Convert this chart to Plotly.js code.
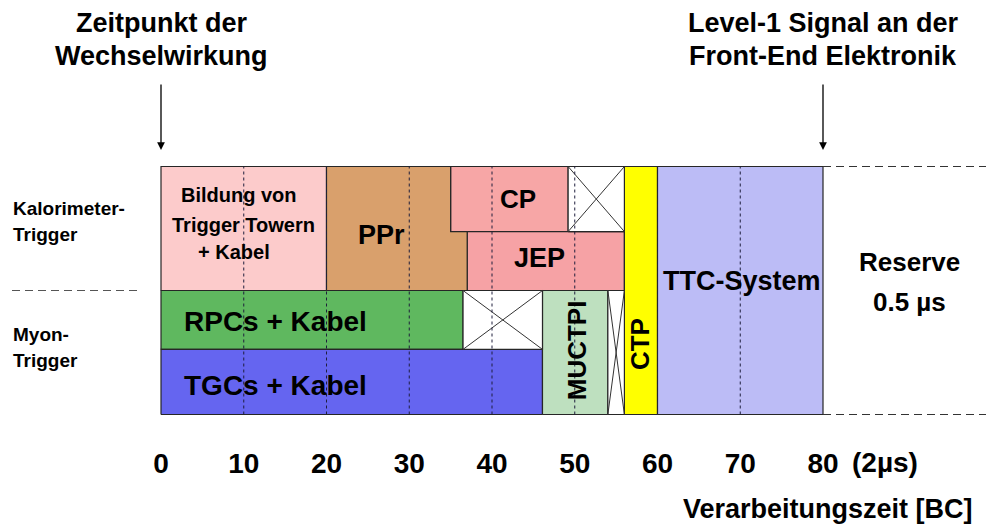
<!DOCTYPE html>
<html><head><meta charset="utf-8">
<script src="https://cdn.plot.ly/plotly-3.0.1.min.js"></script>
<style>html,body{margin:0;padding:0;background:#fff;} #chart{width:986px;height:532px;}</style>
</head><body><div id="chart"></div>
<script>
// ---------------- data: processing time in bunch crossings (BC) ----------------
const blockNames = ['Bildung von Trigger Towern + Kabel', 'CP', 'JEP', 'RPCs + Kabel', 'TGCs + Kabel', 'MUCTPI', 'CTP', 'TTC-System'];
const blockStart = [0, 35, 37, 0, 0, 46.1, 56, 60];
const blockEnd   = [20, 49.2, 56, 36.5, 46.1, 54, 60, 80];
const blockLow   = [2, 2.95, 2, 1.05, 0, 0, 0, 0];
const blockHigh  = [4, 4, 2.95, 2, 1.05, 2, 4, 4];

// PPr is L-shaped: ends at 35 BC beside CP and at 37 BC beside JEP
const pprStart = [20];
const pprEnd   = [35, 37];      // upper part, lower part
const pprRows  = [4, 2.95, 2];  // top, split, bottom

// unused (crossed) slots
const idleStart = [49.2, 36.5, 54];
const idleEnd   = [56, 46.1, 56];
const idleLow   = [2.95, 1.05, 0];
const idleHigh  = [4, 2, 2];

const reserveRange = [80, 100];
const rowDivider   = [2];
const tickVals = [0, 10, 20, 30, 40, 50, 60, 70, 80];
const tickText = ['0', '10', '20', '30', '40', '50', '60', '70', '80'];
const gridVals = [10, 20, 30, 40, 50, 60, 70];

// ---------------- styles ----------------
const blockColors = ['#FCCBCB', '#F7A6A6', '#F6A2A5', '#5FB85F', '#6565F0', '#BEE0BF', '#FFFF00', '#BCBCF6'];
const pprColor = '#D9A06C';
const FONT = 'Liberation Sans, Arial, Helvetica, sans-serif';
const EDGE = '#262626';

// axis geometry (pixel <-> data helpers for annotation placement)
const PX_X = 8.275, X0PX = 161;   // px per BC, px of BC 0
const PX_Y = 62, Y0PX = 414.5;    // px per row unit, px of y=0
const W = 986, H = 532;
const yOf = py => (Y0PX - py) / PX_Y;
const xOf = px => (px - X0PX) / PX_X;

const traces = [];
function rect(x0, x1, y0, y1, fill) {
  traces.push({type: 'scatter', mode: 'lines', x: [x0, x1, x1, x0, x0], y: [y0, y0, y1, y1, y0],
    fill: 'toself', fillcolor: fill, line: {color: EDGE, width: 1.2}, hoverinfo: 'skip', showlegend: false});
}
// normal blocks
blockNames.forEach((n, i) => rect(blockStart[i], blockEnd[i], blockLow[i], blockHigh[i], blockColors[i]));
// PPr polygon
traces.push({type: 'scatter', mode: 'lines',
  x: [pprStart[0], pprEnd[1], pprEnd[1], pprEnd[0], pprEnd[0], pprStart[0], pprStart[0]],
  y: [pprRows[2], pprRows[2], pprRows[1], pprRows[1], pprRows[0], pprRows[0], pprRows[2]],
  fill: 'toself', fillcolor: pprColor, line: {color: EDGE, width: 1.2}, hoverinfo: 'skip', showlegend: false});
// crossed idle slots
idleStart.forEach((s, i) => {
  rect(s, idleEnd[i], idleLow[i], idleHigh[i], '#FFFFFF');
  traces.push({type: 'scatter', mode: 'lines',
    x: [s, idleEnd[i], null, s, idleEnd[i]], y: [idleLow[i], idleHigh[i], null, idleHigh[i], idleLow[i]],
    line: {color: '#333', width: 1}, hoverinfo: 'skip', showlegend: false});
});
// vertical dashed grid lines
const gx = [], gy = [];
gridVals.forEach(v => { gx.push(v, v, null); gy.push(0, 4, null); });
traces.push({type: 'scatter', mode: 'lines', x: gx, y: gy,
  line: {color: '#1e1e3c', width: 1, dash: '3px,3px'}, hoverinfo: 'skip', showlegend: false});
// reserve dashed border lines
traces.push({type: 'scatter', mode: 'lines',
  x: [reserveRange[0], reserveRange[1], null, reserveRange[0], reserveRange[1]], y: [4, 4, null, 0, 0],
  line: {color: '#333', width: 1, dash: '8px,5px'}, hoverinfo: 'skip', showlegend: false});
// left row separator
traces.push({type: 'scatter', mode: 'lines', x: [xOf(12), xOf(138)], y: [rowDivider[0], rowDivider[0]],
  line: {color: '#555', width: 1, dash: '8px,5px'}, hoverinfo: 'skip', showlegend: false});

function lab(text, x, py, size, extra) {
  return Object.assign({text: text, x: x, y: yOf(py), xref: 'x', yref: 'y', showarrow: false,
    xanchor: 'center', yanchor: 'middle', font: {family: FONT, size: size, color: '#000', weight: 'bold'}}, extra || {});
}
const ann = [
  lab('Zeitpunkt der', 0, 23, 27), lab('Wechselwirkung', 0, 56, 27),
  lab('Level-1 Signal an der', 80, 23, 27), lab('Front-End Elektronik', 80, 56, 27),
  {x: 0, y: yOf(150), xref: 'x', yref: 'y', ax: 0, ay: -67, axref: 'pixel', ayref: 'pixel', text: '',
    showarrow: true, arrowhead: 2, arrowsize: 1.2, arrowwidth: 1.3, arrowcolor: '#000', standoff: 0},
  {x: 80, y: yOf(150), xref: 'x', yref: 'y', ax: 0, ay: -67, axref: 'pixel', ayref: 'pixel', text: '',
    showarrow: true, arrowhead: 2, arrowsize: 1.2, arrowwidth: 1.3, arrowcolor: '#000', standoff: 0},
  lab('Kalorimeter-', xOf(11), 208, 19, {xanchor: 'left'}), lab('Trigger', xOf(11), 234, 19, {xanchor: 'left'}),
  lab('Myon-', xOf(11), 334, 19, {xanchor: 'left'}), lab('Trigger', xOf(11), 360, 19, {xanchor: 'left'}),
  lab('Bildung von', 9.4, 195, 20), lab('Trigger Towern', 10, 225, 20), lab('+ Kabel', 8.8, 252, 20),
  lab('PPr', 26.7, 235, 27), lab('CP', 43.1, 199, 26), lab('JEP', 45.7, 258, 27),
  lab('RPCs + Kabel', 13.8, 321, 28), lab('TGCs + Kabel', 13.8, 385, 28),
  lab('MUCTPI', 50.3, 350, 26, {textangle: -90}), lab('CTP', 57.9, 344, 26, {textangle: -90}),
  lab('TTC-System', 70.2, 281, 27), lab('Reserve', 90.5, 262, 26), lab('0.5 µs', 90.4, 302, 26),
  lab('(2µs)', xOf(850), 462, 28, {xanchor: 'left'}),
  lab('Verarbeitungszeit [BC]', xOf(975), 509, 27, {xanchor: 'right'})
];

const layout = {
  width: W, height: H, margin: {l: 0, r: 0, t: 0, b: 0},
  paper_bgcolor: '#fff', plot_bgcolor: '#fff', showlegend: false,
  xaxis: {range: [xOf(0), xOf(W)], showgrid: false, zeroline: false, showline: false, ticks: '',
    tickmode: 'array', tickvals: tickVals, ticktext: tickText, anchor: 'free', position: 1 - 444 / H,
    tickfont: {family: FONT, size: 28, color: '#000', weight: 'bold'}, fixedrange: true},
  yaxis: {range: [yOf(H), yOf(0)], visible: false, fixedrange: true},
  annotations: ann
};
Plotly.newPlot('chart', traces, layout, {staticPlot: true, displayModeBar: false});
</script></body></html>
